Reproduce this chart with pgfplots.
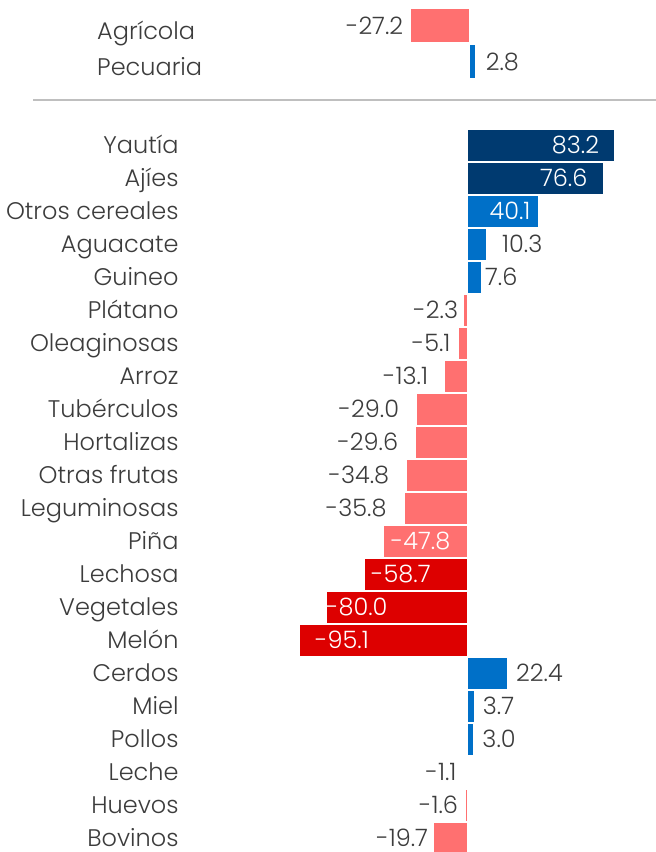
\documentclass[border=0pt]{standalone}
\usepackage{pgfplots}
\pgfplotsset{compat=1.18}
\usepackage{fontspec}
\setmainfont{Poppins}[UprightFont=* Light]
\definecolor{navy}{HTML}{003A70}
\definecolor{blu}{HTML}{0070C8}
\definecolor{salmon}{HTML}{FF7070}
\definecolor{rd}{HTML}{DD0000}
\definecolor{txt}{HTML}{3C3C3C}
\newcommand{\lbl}{\fontsize{24}{28}\selectfont}
\begin{document}
\begin{tikzpicture}
\useasboundingbox (0pt,-852pt) rectangle (656pt,0pt);
% top axis
\begin{axis}[
  at={(404.2pt,-7.5pt)}, anchor=north west,
  scale only axis, width=86.4pt, height=72pt,
  xmin=-30, xmax=10, ymin=-0.5, ymax=1.5, y dir=reverse,
  xbar, bar width=34pt, bar shift=0pt,
  axis line style={draw=none}, tick style={draw=none}, xtick=\empty,
  ytick={0,1}, yticklabels={Agrícola,Pecuaria},
  yticklabel style={font=\lbl, text=txt, anchor=base west, inner sep=0pt, xshift=-302.9pt, yshift=-13.5pt},
  clip=false,
]
\addplot[fill=salmon, draw=white, line width=1pt] coordinates {(-27.2,0)};
\addplot[fill=blu, draw=white, line width=1pt] coordinates {(2.8,1)};
\node[font=\lbl, text=txt, inner sep=0pt, anchor=east] at (axis cs:-30.4,0) {-27.2};
\node[font=\lbl, text=txt, inner sep=0pt, anchor=west] at (axis cs:7.7,1) {2.8};
\end{axis}
\draw[black!25, line width=1.2pt] (33pt,-100pt) -- (656pt,-100pt);
% bottom axis
\begin{axis}[
  at={(291.3pt,-128.5pt)}, anchor=north west,
  scale only axis, width=362.2pt, height=726pt,
  xmin=-100, xmax=105, ymin=-0.5, ymax=21.5, y dir=reverse,
  xbar, bar width=32pt, bar shift=0pt,
  axis line style={draw=none}, tick style={draw=none}, xtick=\empty,
  ytick={0,...,21},
  yticklabels={Yautía,Ajíes,Otros cereales,Aguacate,Guineo,Plátano,Oleaginosas,Arroz,Tubérculos,Hortalizas,Otras frutas,Leguminosas,Piña,Lechosa,Vegetales,Melón,Cerdos,Miel\ ,Pollos,Leche,Huevos,Bovinos},
  yticklabel style={font=\lbl, text=txt, anchor=base east, inner sep=0pt, xshift=-108.3pt, yshift=-8.6pt},
  clip=false,
]
\addplot[fill=navy, draw=white, line width=1pt] coordinates {(83.2,0) (76.6,1)};
\addplot[fill=blu, draw=white, line width=1pt] coordinates {(40.1,2) (10.3,3) (7.6,4) (22.4,16) (3.7,17) (3.0,18)};
\addplot[fill=salmon, draw=white, line width=1pt] coordinates {(-2.3,5) (-5.1,6) (-13.1,7) (-29.0,8) (-29.6,9) (-34.8,10) (-35.8,11) (-47.8,12) (-1.1,19) (-1.6,20) (-19.7,21)};
\addplot[fill=rd, draw=white, line width=1pt] coordinates {(-58.7,13) (-80.0,14) (-95.1,15)};
% value labels
\begin{scope}[every node/.style={font=\lbl, text=txt, inner sep=0pt}]
\node[anchor=east, text=white] at (axis cs:74.3,0) {83.2};
\node[anchor=east, text=white] at (axis cs:67.7,1) {76.6};
\node[anchor=east, text=white] at (axis cs:35.5,2) {40.1};
\node[anchor=west] at (axis cs:19.2,3) {10.3};
\node[anchor=west] at (axis cs:9.6,4) {7.6};
\node[anchor=east] at (axis cs:-5.5,5) {-2.3};
\node[anchor=east] at (axis cs:-9.8,6) {-5.1};
\node[anchor=east] at (axis cs:-22.5,7) {-13.1};
\node[anchor=east] at (axis cs:-38.9,8) {-29.0};
\node[anchor=east] at (axis cs:-39.4,9) {-29.6};
\node[anchor=east] at (axis cs:-44.5,10) {-34.8};
\node[anchor=east] at (axis cs:-46.0,11) {-35.8};
\node[anchor=west, text=white] at (axis cs:-43.7,12) {-47.8};
\node[anchor=west, text=white] at (axis cs:-54.9,13) {-58.7};
\node[anchor=west, text=white] at (axis cs:-80.4,14) {-80.0};
\node[anchor=west, text=white] at (axis cs:-86.6,15) {-95.1};
\node[anchor=west] at (axis cs:27.2,16) {22.4};
\node[anchor=west] at (axis cs:8.3,17) {3.7};
\node[anchor=west] at (axis cs:8.1,18) {3.0};
\node[anchor=east] at (axis cs:-6.4,19) {-1.1};
\node[anchor=east] at (axis cs:-5.5,20) {-1.6};
\node[anchor=east] at (axis cs:-22.5,21) {-19.7};
\end{scope}
\end{axis}
\end{tikzpicture}
\end{document}
